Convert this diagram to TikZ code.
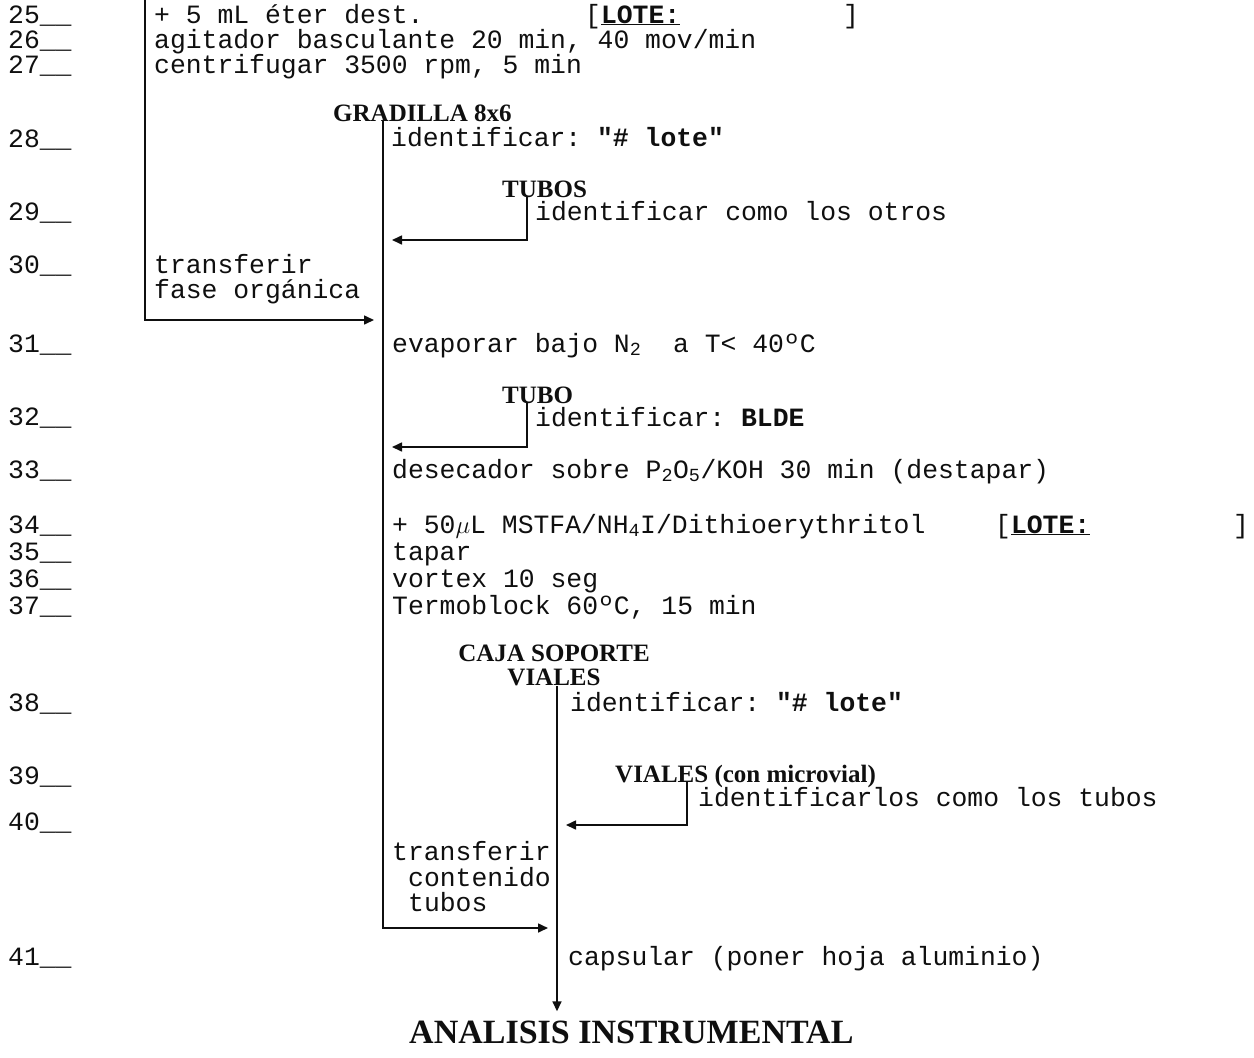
\documentclass[tikz,border=0pt]{standalone}
\usepackage{fontspec}
\setmainfont{Liberation Serif}
\setmonofont{Liberation Mono}
\usepackage{tikz}
\usetikzlibrary{arrows.meta, calc}
\usepackage{xcolor}
\definecolor{inkblack}{RGB}{15,15,15}
\tikzset{
    % Line numbers and step texts
    numlbl/.style={anchor=base west, inner sep=0pt, text=inkblack,
                font=\fontsize{26.4}{27}\selectfont\ttfamily},
    steptxt/.style={anchor=base west, inner sep=0pt, text=inkblack,
                font=\fontsize{26.4}{27}\selectfont\ttfamily},
    % Containers
    holder/.style={anchor=base west, inner sep=0pt, text=inkblack,
                font=\fontsize{25}{22}\selectfont\bfseries},
    holder2/.style={anchor=south, inner sep=0pt, text=inkblack, align=center,
                font=\fontsize{25}{24}\selectfont\bfseries},
    finlbl/.style={anchor=base west, inner sep=0pt, text=inkblack,
                font=\fontsize{34}{34}\selectfont\bfseries},
    % Flow lines
    flow/.style={-{Triangle[length=10pt, width=9pt]}, line width=1.6pt, draw=inkblack,
                shorten >=9pt},
}

\begin{document}
\begin{tikzpicture}[x=1pt, y=-1pt]
\useasboundingbox (0,0) rectangle (1254,1058);

% line numbers
\foreach \n/\y in {25/23, 26/48, 27/73, 28/147, 29/220, 30/273, 31/352, 32/425,
                   33/478, 34/533, 35/560, 36/587, 37/614, 38/711, 39/784,
                   40/830, 41/965}
    \node[numlbl] (num\n) at (8,\y) {\n\_\_};

% first block
\node[steptxt] (eter)   at (154,23)  {+ 5 mL éter dest.};
\node[steptxt] (lote1)  at (585,23)  {[\textbf{\underline{LOTE:}}};
\node[steptxt] (lote1e) at (843,23)  {]};
\node[steptxt] (agit)   at (154,48)  {agitador basculante 20 min, 40 mov/min};
\node[steptxt] (centr)  at (154,73)  {centrifugar 3500 rpm, 5 min};
\node[steptxt] (trans1) at (154,273) {transferir};
\node[steptxt] (fase)   at (154,298) {fase orgánica};

% gradilla
\node[holder]  (gradilla) at (333,121) {GRADILLA 8x6};
\node[steptxt] (ident1)   at (391,146) {identificar: \textbf{"\# lote"}};
\node[holder]  (tubos)    at (502,197) {TUBOS};
\node[steptxt] (ident2)   at (535,220) {identificar como los otros};
\node[steptxt] (evap)     at (392,352) {evaporar bajo N\textsubscript{2}~ a T< 40ºC};
\node[holder]  (tubo)     at (502,403) {TUBO};
\node[steptxt] (ident3)   at (535,426) {identificar: \textbf{BLDE}};
\node[steptxt] (desec)    at (392,478) {desecador sobre P\textsubscript{2}O\textsubscript{5}/KOH 30 min (destapar)};
\node[steptxt] (mstfa)    at (392,533) {+ 50$\mu$L MSTFA/NH\textsubscript{4}I/Dithioerythritol};
\node[steptxt] (lote2)    at (995,533) {[\textbf{\underline{LOTE:}}};
\node[steptxt] (lote2e)   at (1233,533) {]};
\node[steptxt] (tapar)    at (392,560) {tapar};
\node[steptxt] (vortex)   at (392,587) {vortex 10 seg};
\node[steptxt] (termo)    at (392,614) {Termoblock 60ºC, 15 min};
\node[steptxt] (trans2)   at (392,860) {transferir};
\node[steptxt] (conten)   at (408,886) {contenido};
\node[steptxt] (tubtxt)   at (408,911) {tubos};

% caja soporte
\node[holder2] (caja)   at (554,686) {CAJA SOPORTE\\VIALES};
\node[steptxt] (ident4) at (570,711) {identificar: \textbf{"\# lote"}};
\node[holder]  (viales) at (615,782) {VIALES (con microvial)};
\node[steptxt] (ident5) at (698,806) {identificarlos como los tubos};
\node[steptxt] (capsul) at (568,965) {capsular (poner hoja aluminio)};
\node[finlbl]  (analisis) at (409,1043) {ANALISIS INSTRUMENTAL};

\coordinate (top1) at (145,-2);
\coordinate (j1) at (383,320);
\coordinate (j2) at (557,928);
\coordinate (k1) at (527,240);
\coordinate (k2) at (527,447);
\coordinate (k3) at (687,825);

\draw[flow] (top1) |- (j1);
\draw[flow] (j1 |- gradilla.base) |- (j2);
\draw[flow] (k1 |- tubos.base) |- (j1 |- k1);
\draw[flow] (k2 |- tubo.base) |- (j1 |- k2);
\draw[flow] (k3 |- viales.base) |- (j2 |- k3);
\draw[flow] (j2 |- caja.south) -- (j2 |- analisis.north);
\end{tikzpicture}
\end{document}
